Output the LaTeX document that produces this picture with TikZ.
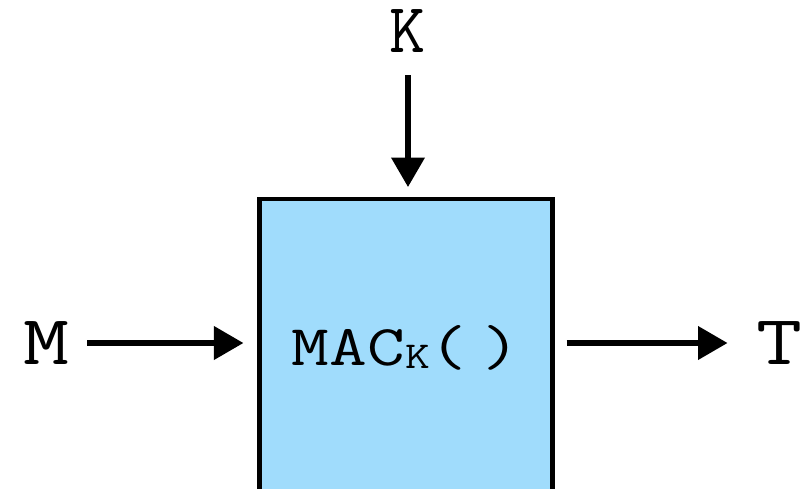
\documentclass[tikz,border=0pt]{standalone}
\usepackage{xcolor}
\usepackage{graphicx}
\usetikzlibrary{arrows.meta,positioning}
\definecolor{macblue}{HTML}{A0DCFC}
\newcommand\widetext[1]{\scalebox{1.27}[1]{#1}}

\begin{document}
\begin{tikzpicture}[x=0.025cm,y=-0.025cm,>={Triangle[length=21pt,width=23pt]},
  lbl/.style={inner sep=0pt,font=\ttfamily\fontsize{50}{50}\selectfont},
  flow/.style={->,line width=4.2pt}]
  \useasboundingbox (0,0) rectangle (809,488);
  \clip (0,0) rectangle (809,488);
  \node[draw,line width=3.5pt,fill=macblue,minimum width=7.325cm,minimum height=7.4cm,
    text height=25.6pt,text depth=0pt,font=\ttfamily\fontsize{41}{41}\selectfont] (mac) at (406,347)
    {\widetext{MAC\raisebox{-0.15ex}{\fontsize{27}{27}\selectfont K}(\hspace{0.2em})}};
  \node[lbl] (key) at (408,31.5) {K};
  \node[lbl] (msg) at (46,343) {\widetext{M}};
  \node[lbl] (tag) at (779,343) {\widetext{T}};
  \draw[flow,shorten <=15.6pt,shorten >=6.7pt] (key) -- (key |- mac.north);
  \draw[flow,shorten <=12.8pt,shorten >=9.6pt] (msg.east) -- (msg.east -| mac.west);
  \draw[flow,shorten <=8.2pt,shorten >=20pt] (tag.west -| mac.east) -- (tag.west);
\end{tikzpicture}
\end{document}
